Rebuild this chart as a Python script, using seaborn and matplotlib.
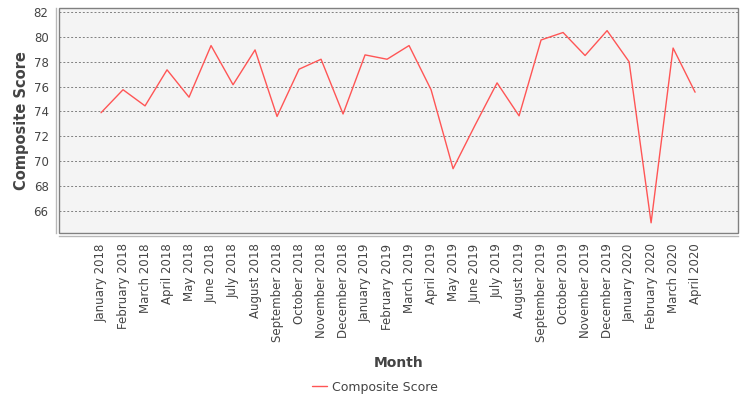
import matplotlib
matplotlib.use("Agg")
import matplotlib.pyplot as plt
import matplotlib.patches as mpatches
import pandas as pd
import seaborn as sns

# Monthly composite score
months = ['January 2018', 'February 2018', 'March 2018', 'April 2018', 'May 2018',
          'June 2018', 'July 2018', 'August 2018', 'September 2018', 'October 2018',
          'November 2018', 'December 2018', 'January 2019', 'February 2019',
          'March 2019', 'April 2019', 'May 2019', 'June 2019', 'July 2019',
          'August 2019', 'September 2019', 'October 2019', 'November 2019',
          'December 2019', 'January 2020', 'February 2020', 'March 2020', 'April 2020']
scores = [73.9, 75.75, 74.45, 77.35, 75.15, 79.3, 76.15, 78.95, 73.6, 77.4,
          78.2, 73.8, 78.55, 78.2, 79.3, 75.75, 69.4, 72.9, 76.3, 73.65,
          79.75, 80.35, 78.5, 80.5, 78.0, 65.05, 79.1, 75.55]
y_ticks = [66, 68, 70, 72, 74, 76, 78, 80, 82]

df = pd.DataFrame({'Month': months, 'Composite Score': scores})

sns.set_style("white")
plt.rcParams['font.family'] = ['DejaVu Sans']
text_col = '#444444'

fig = plt.figure(figsize=(7.5, 4), dpi=100)
ax = fig.add_axes([59 / 750, 1 - 233 / 400, 679 / 750, 225 / 400])
ax.set_facecolor('#f4f4f4')

sns.lineplot(data=df, x='Month', y='Composite Score', sort=False, ax=ax,
             color='#ff5555', linewidth=1, label='Composite Score', legend=False)

ax.set_xlim(-1.91, 28.95)
ax.set_ylim(64.23, 82.32)
ax.set_yticks(y_ticks)
ax.set_xticks(range(len(months)))
ax.set_xticklabels(months)
ax.tick_params(axis='x', labelrotation=90)
ax.grid(axis='y', color='#808080', linestyle=(0, (2, 2)), linewidth=0.7)
ax.set_axisbelow(True)

# plot border plus offset axis lines, JFreeChart style
ax.spines['top'].set_visible(False)
ax.spines['right'].set_visible(False)
for side in ['left', 'bottom']:
    ax.spines[side].set_position(('outward', 2.5))
    ax.spines[side].set_color('#b8b8b8')
    ax.spines[side].set_linewidth(1)
ax.add_patch(mpatches.Rectangle((0, 0), 1, 1, transform=ax.transAxes, fill=False,
                                edgecolor='#808080', linewidth=1, clip_on=False, zorder=5))

ax.tick_params(axis='both', labelsize=8.5, colors='#909090', labelcolor=text_col,
               length=3, width=0.8, direction='out', pad=2)

ax.set_xlabel('Month', fontsize=10, fontweight='bold', color=text_col, labelpad=10)
ax.set_ylabel('Composite Score', fontsize=10.5, fontweight='bold', color=text_col, labelpad=3)

handle = plt.Line2D([], [], color='#ff5555', linewidth=1)
fig.legend([handle], ['Composite Score'], loc='center', bbox_to_anchor=(0.5, 1 - 387 / 400),
           frameon=False, fontsize=9, labelcolor=text_col, handlelength=1.2,
           handletextpad=0.4)

fig.savefig('out.png', dpi=100)
